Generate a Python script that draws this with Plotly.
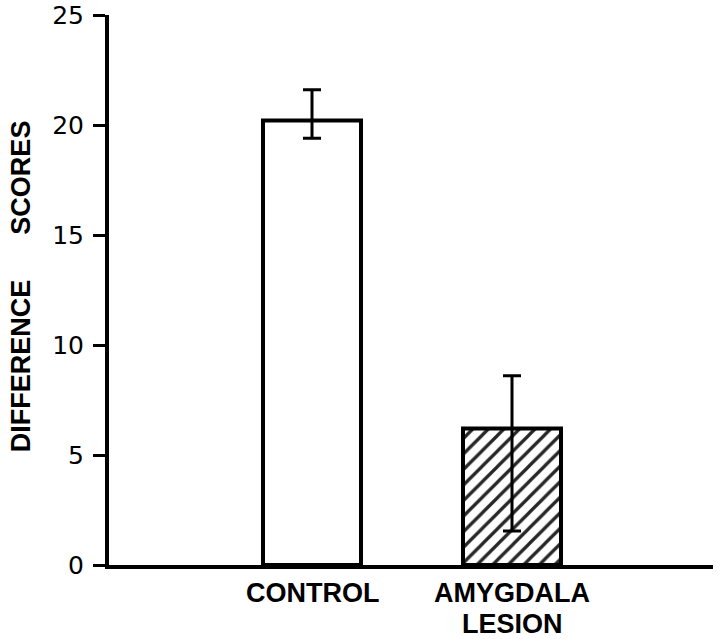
import plotly.graph_objects as go

label_lines = [["CONTROL"], ["AMYGDALA", "LESION"]]
categories = [" ".join(lines) for lines in label_lines]
values = [20.2, 6.2]
err_plus = [1.4, 2.4]
err_minus = [0.8, 4.65]
patterns = ["", "/"]
y_ticks = [0, 5, 10, 15, 20, 25]

fig = go.Figure()
fig.add_trace(go.Bar(
    x=categories, y=values, width=0.49,
    marker=dict(color="white", line=dict(color="black", width=4),
                pattern=dict(shape=patterns, fgcolor="black", bgcolor="white",
                             size=11, solidity=0.3, fgopacity=0.85)),
    error_y=dict(type="data", symmetric=False, array=err_plus, arrayminus=err_minus,
                 color="black", thickness=3, width=9),
    showlegend=False,
))

bold = dict(family="Liberation Sans, Arial", size=27, color="black", weight="bold")
annotations = [dict(
    text="DIFFERENCE\u00a0\u00a0\u00a0\u00a0\u00a0\u00a0SCORES", textangle=-90,
    xref="paper", yref="paper", x=(21 - 109) / 604, y=0.507,
    xanchor="center", yanchor="middle", showarrow=False, font=bold)]
line_y = [-0.0509, -0.108]
for cat, lines in zip(categories, label_lines):
    for i, line in enumerate(lines):
        annotations.append(dict(text=line, x=cat, xref="x", yref="paper", y=line_y[i],
                                xanchor="center", yanchor="middle", showarrow=False,
                                font=bold))

fig.update_layout(
    width=720, height=639,
    margin=dict(l=109, r=7, t=15, b=74),
    paper_bgcolor="white", plot_bgcolor="white",
    bargap=0.5,
    xaxis=dict(type="category", range=[-1.015, 2.005], showline=True, linecolor="black",
               linewidth=4, ticks="", showgrid=False, zeroline=False, automargin=False,
               showticklabels=False),
    yaxis=dict(range=[0, 25], tickvals=y_ticks, showline=True, linecolor="black",
               linewidth=4, ticks="outside", ticklen=12, tickwidth=3, tickcolor="black",
               showgrid=False, zeroline=False, automargin=False, ticklabelstandoff=4,
               tickfont=dict(family="DejaVu Sans", size=25, color="black")),
    annotations=annotations,
)

# remove the default 8px page-body margin so the figure sits at the window's corner
fig.write_html("out.html", config={"displayModeBar": False},
               post_script="document.body.style.margin='0';")
